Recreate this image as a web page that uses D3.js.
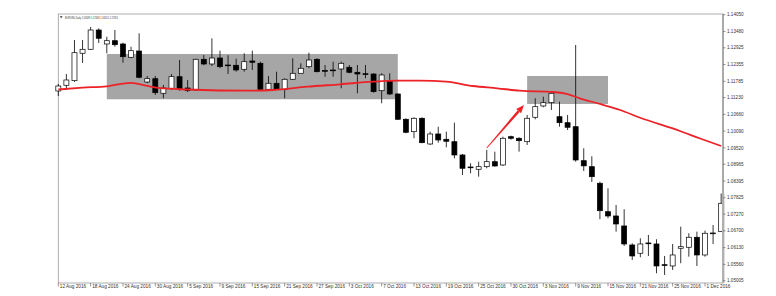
<!DOCTYPE html>
<html>
<head>
<meta charset="utf-8">
<script src="https://cdn.jsdelivr.net/npm/d3@7"></script>
<style>
  html, body { margin: 0; padding: 0; background: #fff; }
  svg { display: block; font-family: "Liberation Sans", Arial, sans-serif; }
</style>
</head>
<body>
<div id="chart"></div>
<script>
// EURUSD daily bars, 12 Aug 2016 .. early Dec 2016
const open = [1.11456,1.1165,1.11806,1.12738,1.12874,1.1353,1.13054,1.13166,1.13054,1.12602,
  1.12816,1.11762,1.11874,1.11378,1.11548,1.11942,1.11558,1.1149,1.12534,1.12374,
  1.12578,1.1234,1.1233,1.12194,1.12476,1.12398,1.11514,1.11718,1.11514,1.11854,
  1.12058,1.12282,1.12534,1.12153,1.1217,1.12204,1.12262,1.12092,1.12044,1.12034,
  1.11466,1.11796,1.11354,1.10494,1.10072,1.10528,1.09654,1.09994,1.09814,1.09732,
  1.0928,1.08872,1.08794,1.08882,1.09052,1.0894,1.09902,1.09848,1.09732,1.10562,
  1.10946,1.11058,1.10582,1.10378,1.10242,1.09086,1.08882,1.08318,1.07352,1.07206,
  1.06866,1.0622,1.05938,1.06288,1.06254,1.0555,1.05506,1.06108,1.06142,1.06482,
  1.0588,1.06608,1.06672];
const high = [1.11694,1.12034,1.1319,1.1319,1.13632,1.13588,1.13302,1.1353,1.13098,1.12962,
  1.13418,1.11966,1.11966,1.1166,1.12034,1.1251,1.1183,1.12554,1.1268,1.13248,
  1.12826,1.1267,1.12554,1.12738,1.12826,1.12452,1.11966,1.12112,1.11888,1.12568,
  1.12398,1.12758,1.12568,1.1234,1.12452,1.12452,1.1234,1.1234,1.1234,1.12058,
  1.12058,1.12058,1.11378,1.10528,1.10562,1.10562,1.10072,1.10242,1.10072,1.10378,
  1.09314,1.08998,1.09052,1.0945,1.09392,1.09902,1.09936,1.09882,1.1064,1.11208,
  1.11262,1.11398,1.11092,1.1064,1.1302,1.09508,1.09236,1.08372,1.08148,1.0758,
  1.07434,1.06278,1.06448,1.0656,1.06414,1.05846,1.06254,1.06842,1.06618,1.06672,
  1.06706,1.069,1.07971];
const low = [1.11286,1.1149,1.11762,1.12408,1.1285,1.13088,1.12738,1.12962,1.12418,1.12568,
  1.11888,1.11718,1.1132,1.11208,1.1149,1.11466,1.11422,1.11466,1.1233,1.12306,
  1.12228,1.12034,1.12112,1.12112,1.1217,1.1149,1.1149,1.1149,1.11208,1.1183,
  1.121,1.12228,1.12092,1.11942,1.11942,1.11548,1.12058,1.11378,1.11888,1.11398,
  1.11038,1.1132,1.1047,1.10018,1.09848,1.0968,1.0962,1.09698,1.09542,1.09168,
  1.086,1.08658,1.08542,1.08828,1.08882,1.08906,1.098,1.09392,1.0962,1.10494,
  1.10902,1.1081,1.10242,1.1013,1.09052,1.08736,1.08362,1.07094,1.07128,1.06672,
  1.06186,1.0571,1.05802,1.05846,1.05258,1.052,1.0537,1.05598,1.05822,1.05506,
  1.05822,1.06254,1.06662];
const close = [1.11626,1.1183,1.12758,1.12874,1.1353,1.13248,1.13166,1.1303,1.12622,1.12826,
  1.11922,1.11874,1.11398,1.11558,1.11942,1.11514,1.11466,1.12534,1.12374,1.12578,
  1.12282,1.1232,1.1217,1.12452,1.12432,1.11514,1.11718,1.11514,1.11854,1.12058,
  1.12228,1.1251,1.12112,1.12136,1.12153,1.12398,1.12092,1.12034,1.12027,1.11432,
  1.12,1.11354,1.10494,1.10052,1.10528,1.09698,1.09994,1.0979,1.09746,1.0928,
  1.08828,1.08852,1.08882,1.09052,1.08906,1.09848,1.09848,1.09766,1.10528,1.10922,
  1.11058,1.11378,1.10378,1.10222,1.0911,1.0891,1.08542,1.07386,1.07206,1.06934,
  1.06254,1.05846,1.06254,1.06268,1.05506,1.05533,1.0588,1.06162,1.06482,1.0588,
  1.06618,1.06628,1.07638];

// moving average (red line), sampled at bar positions
const maIdx = [0,3,6,9,11,12.6,16,23.7,26.6,30.8,34.9,38.9,41.9,44.7,48,51.3,54.3,57.1,61.2,62.9,64.5,67,69.5,71.9,76.9,79.4,82];
const maVal = [1.11507,1.11568,1.11616,1.11735,1.11626,1.11551,1.11507,1.11466,1.1149,1.11602,1.11684,1.11772,1.11806,1.11806,1.11772,1.11626,1.11548,1.11466,1.11422,1.11354,1.11208,1.11014,1.1081,1.10555,1.10096,1.09841,1.09586];

// grey zones (bar index range, price range)
const zoneFrom = [6, 58];
const zoneTo = [42, 68];
const zoneTop = [1.12714, 1.11966];
const zoneBottom = [1.11174, 1.11014];

// red arrow: [bar index, price]
const arrowFrom = [53, 1.09518];
const arrowTo = [57.6, 1.1098];

const dateLabels = ["12 Aug 2016","18 Aug 2016","24 Aug 2016","30 Aug 2016","5 Sep 2016","9 Sep 2016",
  "15 Sep 2016","21 Sep 2016","27 Sep 2016","3 Oct 2016","7 Oct 2016","13 Oct 2016","19 Oct 2016",
  "25 Oct 2016","30 Oct 2016","3 Nov 2016","9 Nov 2016","15 Nov 2016","21 Nov 2016","25 Nov 2016","1 Dec 2016"];
const priceTicks = [1.14050,1.13480,1.12925,1.12355,1.11785,1.11230,1.10660,1.10090,1.09520,
  1.08965,1.08395,1.07825,1.07270,1.06700,1.06130,1.05560,1.05005];
const headerText = "EURUSD,Daily  1.16589 1.17436 1.16555 1.17355";

const W = 776, H = 296;
const plot = { left: 58.3, right: 723, top: 14, bottom: 283 };

const svg = d3.select("#chart").append("svg")
    .attr("width", W)
    .attr("height", H);

const x = d3.scaleLinear().domain([0, 80]).range([58.3, 705]);
const y = d3.scaleLinear().domain([1.05005, 1.14050]).range([280.7, 14.7]);

// frame
svg.append("rect")
    .attr("x", plot.left).attr("y", plot.top)
    .attr("width", plot.right - plot.left).attr("height", plot.bottom - plot.top)
    .attr("fill", "#fff")
    .attr("stroke", "#9a9a9a")
    .attr("stroke-width", 0.8);

// grey zones
svg.append("g")
    .selectAll("rect")
    .data(zoneFrom.map((f, i) => ({ f, t: zoneTo[i], top: zoneTop[i], bot: zoneBottom[i] })))
    .join("rect")
    .attr("x", d => x(d.f))
    .attr("y", d => y(d.top))
    .attr("width", d => x(d.t) - x(d.f))
    .attr("height", d => y(d.bot) - y(d.top))
    .attr("fill", "#a6a6a6");

// candles
const bars = d3.range(open.length).map(i => ({ i, o: open[i], h: high[i], l: low[i], c: close[i] }));
const bodyW = 5;

const candle = svg.append("g")
    .selectAll("g")
    .data(bars)
    .join("g");

candle.append("line")
    .attr("x1", d => x(d.i)).attr("x2", d => x(d.i))
    .attr("y1", d => y(d.h)).attr("y2", d => y(d.l))
    .attr("stroke", "#000")
    .attr("stroke-width", 0.8);

candle.append("rect")
    .attr("x", d => x(d.i) - bodyW / 2)
    .attr("y", d => y(Math.max(d.o, d.c)))
    .attr("width", bodyW)
    .attr("height", d => Math.max(0.8, Math.abs(y(d.o) - y(d.c))))
    .attr("fill", d => d.c >= d.o ? "#fff" : "#000")
    .attr("stroke", "#000")
    .attr("stroke-width", 0.7);

// moving average
const maLine = d3.line()
    .x(d => x(d[0]))
    .y(d => y(d[1]))
    .curve(d3.curveMonotoneX);

svg.append("path")
    .datum(maIdx.map((v, i) => [v, maVal[i]]))
    .attr("d", maLine)
    .attr("fill", "none")
    .attr("stroke", "#ec2227")
    .attr("stroke-width", 1.8);

// arrow
const ax0 = x(arrowFrom[0]), ay0 = y(arrowFrom[1]);
const ax1 = x(arrowTo[0]), ay1 = y(arrowTo[1]);
const ang = Math.atan2(ay1 - ay0, ax1 - ax0);
const headLen = 8, headW = 3.2;
const bx = ax1 - headLen * Math.cos(ang), by = ay1 - headLen * Math.sin(ang);
const nx = -Math.sin(ang), ny = Math.cos(ang);

svg.append("path")
    .attr("d", `M${ax0 - nx * 0.4},${ay0 - ny * 0.4}L${bx - nx * 1.3},${by - ny * 1.3}L${bx + nx * 1.3},${by + ny * 1.3}L${ax0 + nx * 0.4},${ay0 + ny * 0.4}Z`)
    .attr("fill", "#ec2227");

svg.append("path")
    .attr("d", `M${ax1},${ay1}L${bx + nx * headW},${by + ny * headW}L${bx - nx * headW},${by - ny * headW}Z`)
    .attr("fill", "#ec2227");

// right price axis
const axisG = svg.append("g");
axisG.append("line")
    .attr("x1", plot.right).attr("x2", plot.right)
    .attr("y1", plot.top).attr("y2", plot.bottom)
    .attr("stroke", "#8c8c8c")
    .attr("stroke-width", 1.2);

axisG.append("rect")
    .attr("x", plot.right - 1)
    .attr("y", y(high[high.length - 1]))
    .attr("width", 2.4)
    .attr("height", plot.bottom - y(high[high.length - 1]))
    .attr("fill", "#b0b0b0");

const yt = axisG.selectAll(".yt")
    .data(priceTicks)
    .join("g")
    .attr("transform", d => `translate(${plot.right},${y(d)})`);

yt.append("line")
    .attr("x1", 0).attr("x2", 2.5)
    .attr("stroke", "#555")
    .attr("stroke-width", 0.6);

yt.append("text")
    .attr("x", 4)
    .attr("dy", "0.35em")
    .attr("font-size", "4.6px")
    .attr("fill", "#333")
    .text(d => d.toFixed(5));

// bottom date axis
const xt = svg.append("g")
    .selectAll("g")
    .data(dateLabels)
    .join("g")
    .attr("transform", (d, i) => `translate(${x(i * 4)},${plot.bottom})`);

xt.append("line")
    .attr("y1", 0).attr("y2", 3.5)
    .attr("stroke", "#555")
    .attr("stroke-width", 0.6);

xt.append("text")
    .attr("x", 1.5)
    .attr("y", 5.3)
    .attr("font-size", "4.7px")
    .attr("fill", "#333")
    .text(d => d);

// header
svg.append("path")
    .attr("d", "M59.8,16.2L62.6,16.2L61.2,18.2Z")
    .attr("fill", "#333");

svg.append("text")
    .attr("x", 65)
    .attr("y", 18.6)
    .attr("font-size", "3.8px")
    .attr("fill", "#333")
    .attr("textLength", 53)
    .attr("lengthAdjust", "spacingAndGlyphs")
    .text(headerText);
</script>
</body>
</html>
